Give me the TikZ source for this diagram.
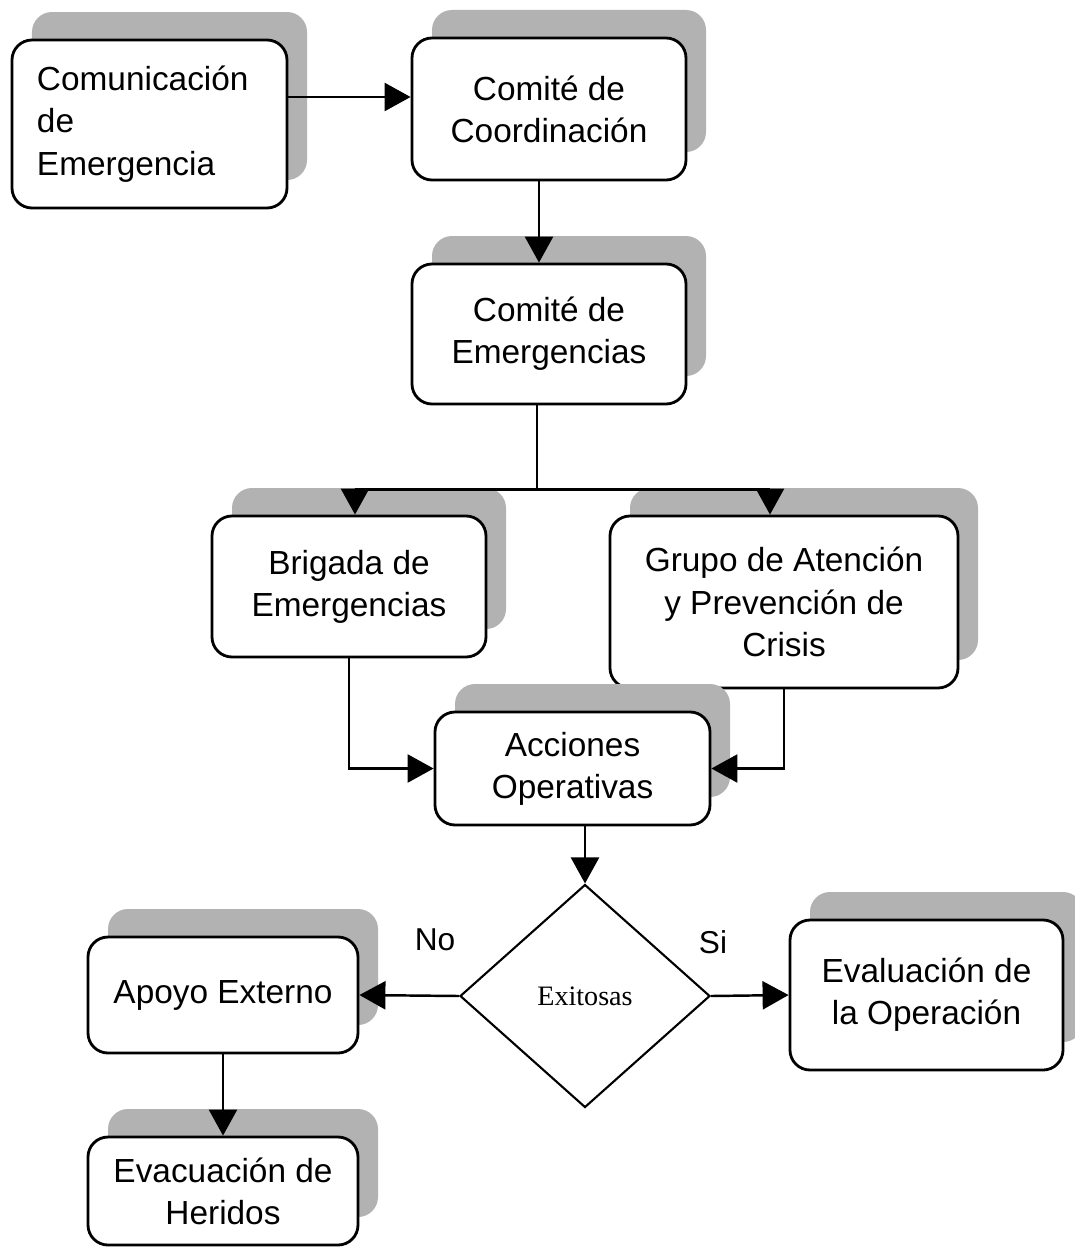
\documentclass[tikz,border=0pt]{standalone}
\usepackage{fontspec}
\setmainfont{Liberation Sans}
\newfontfamily\exfont{Liberation Serif}
\usetikzlibrary{arrows.meta,positioning,calc,shapes.geometric,shadows}

\begin{document}
\begin{tikzpicture}[
    blk/.style={rectangle, draw, line width=0.8pt, rounded corners=0.2cm, fill=white, font=\fontsize{9.5}{12}\selectfont, align=center,
        drop shadow={shadow xshift=0.2cm, shadow yshift=0.28cm, fill=black!30, opacity=1}},
    dec/.style={diamond, draw, line width=0.6pt, inner sep=0pt, minimum width=2.5cm, minimum height=2.23cm, font=\exfont\fontsize{8}{10}\selectfont},
    arr/.style={line width=0.7pt, -{Triangle[length=0.26cm, width=0.28cm]}},
    lbl/.style={font=\fontsize{9}{11}\selectfont},
]
    \useasboundingbox (0,0) rectangle (10.75,-12.47);

    \node[blk, align=left, text width=2.25cm, minimum width=2.75cm, minimum height=1.68cm] (comm) at (1.495,-1.24) {Comunicación\\de\\Emergencia};
    \node[blk, minimum width=2.74cm, minimum height=1.42cm] (coord) at (5.49,-1.09) {Comité de\\Coordinación};
    \node[blk, minimum width=2.74cm, minimum height=1.40cm] (emerg) at (5.49,-3.34) {Comité de\\Emergencias};
    \node[blk, minimum width=2.74cm, minimum height=1.41cm] (brig) at (3.49,-5.865) {Brigada de\\Emergencias};
    \node[blk, minimum width=3.48cm, minimum height=1.72cm] (grupo) at (7.84,-6.02) {Grupo de Atención\\y Prevención de\\Crisis};
    \node[blk, minimum width=2.75cm, minimum height=1.13cm] (acc) at (5.725,-7.685) {Acciones\\Operativas};
    \node[dec] (exito) at (5.85,-9.96) {Exitosas};
    \node[blk, minimum width=2.70cm, minimum height=1.16cm] (apoyo) at (2.23,-9.95) {Apoyo Externo};
    \node[blk, minimum width=2.70cm, minimum height=1.08cm] (evac) at (2.23,-11.91) {Evacuación de\\Heridos};
    \node[blk, minimum width=2.73cm, minimum height=1.50cm] (eval) at (9.265,-9.95) {Evaluación de\\la Operación};

    \node[lbl] (no) at (4.35,-9.40) {No};
    \node[lbl] (si) at (7.13,-9.42) {Si};

    % connectors
    \draw[arr] ([yshift=0.27cm]comm.east) -- ([yshift=0.12cm]coord.west);
    \draw[arr] ([xshift=-0.1cm]coord.south) -- ([xshift=-0.1cm]emerg.north);
    \draw[line width=0.7pt] ([xshift=-0.12cm]emerg.south) -- ++(0,-0.84) coordinate (split);
    \draw[arr] (split) -| ([xshift=0.06cm]brig.north);
    \draw[arr] (split) -| ([xshift=-0.14cm]grupo.north);
    \draw[arr] (brig.south) |- (acc.west);
    \draw[arr] (grupo.south) |- (acc.east);
    \draw[arr] (acc.south -| exito.north) -- (exito.north);
    \draw[arr] (exito.west) -- (apoyo.east);
    \draw[arr] (exito.east) -- (eval.west);
    \draw[arr] (apoyo.south) -- (evac.north);
\end{tikzpicture}
\end{document}
